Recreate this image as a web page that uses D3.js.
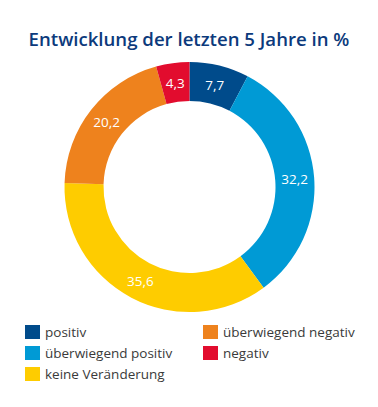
<!DOCTYPE html>
<html><head><meta charset="utf-8">
<script src="https://cdn.jsdelivr.net/npm/d3@7"></script>
<style>body{margin:0;background:#fff}svg{display:block}</style>
</head><body>
<svg id="c" width="378" height="407"></svg>
<script>
const categories = ["positiv","überwiegend positiv","keine Veränderung","überwiegend negativ","negativ"];
const values = [7.7, 32.2, 35.6, 20.2, 4.3];
const labels = ["7,7","32,2","35,6","20,2","4,3"];
const colors = ["#004b8b","#009ad5","#fecc00","#ee821d","#e20c2e"];
const title = "Entwicklung der letzten 5 Jahre in %";

const svg = d3.select("#c");
svg.append("text").attr("x",189).attr("y",46).attr("text-anchor","middle")
  .attr("font-family","'Open Sans', sans-serif").attr("font-weight",600)
  .attr("font-size",18.6).attr("fill","#0c3a7c").text(title);

const cx=189.5, cy=187, rO=125, rI=86;
const data = categories.map((c,i)=>({c, v:values[i], l:labels[i], col:colors[i]}));
const pie = d3.pie().value(d=>d.v).sort(null);
const arc = d3.arc().innerRadius(rI).outerRadius(rO);
const g = svg.append("g").attr("transform",`translate(${cx},${cy})`);
const arcs = pie(data);
g.selectAll("path").data(arcs).join("path").attr("d",arc).attr("fill",d=>d.data.col);
g.selectAll("text").data(arcs).join("text")
  .attr("transform",d=>`translate(${arc.centroid(d)})`)
  .attr("text-anchor","middle").attr("dy","0.38em")
  .attr("font-family","'Open Sans', sans-serif").attr("font-size",13.5)
  .attr("fill","#fff").text(d=>d.data.l);

const legPos = [[25,325],[25,346],[25,367],[203,325],[203,346]];
const lg = svg.append("g");
data.forEach((d,i)=>{
  const [x,y]=legPos[i];
  lg.append("rect").attr("x",x).attr("y",y).attr("width",15).attr("height",14).attr("fill",d.col);
  lg.append("text").attr("x",x+20).attr("y",y+12)
    .attr("font-family","'Open Sans', sans-serif").attr("font-size",13.5)
    .attr("fill","#3a3a3a").text(d.c);
});
</script>
</body></html>
